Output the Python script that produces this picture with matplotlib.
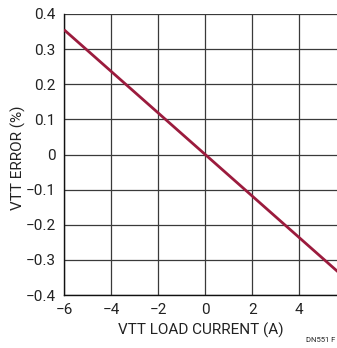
import matplotlib
matplotlib.use("Agg")
import matplotlib.pyplot as plt
from matplotlib import font_manager

# VTT output error versus load current
current_a = [-6.0, 6.0]
error_pct = [0.355, -0.355]

x_ticks = [-6, -4, -2, 0, 2, 4]
y_ticks = [-0.4, -0.3, -0.2, -0.1, 0, 0.1, 0.2, 0.3, 0.4]
y_labels = ["\u22120.4", "\u22120.3", "\u22120.2", "\u22120.1", "0", "0.1", "0.2", "0.3", "0.4"]
x_labels = ["\u22126", "\u22124", "\u22122", "0", "2", "4"]

names = {f.name for f in font_manager.fontManager.ttflist}
family = ["Liberation Sans Narrow"] if "Liberation Sans Narrow" in names else ["Roboto"]
plt.rcParams["font.family"] = family + ["DejaVu Sans"]

fig = plt.figure(figsize=(3.37, 3.48), dpi=100)
ax = fig.add_axes([0.190, 0.152, 0.810, 0.808])

ax.set_xlim(-6, 5.6)
ax.set_ylim(-0.4, 0.4)
ax.set_xticks(x_ticks)
ax.set_xticklabels(x_labels)
ax.set_yticks(y_ticks)
ax.set_yticklabels(y_labels)
ax.tick_params(length=0, labelsize=11, pad=6, colors="#222222")

ax.grid(True, color="#3a3a3a", linewidth=0.9)
ax.set_axisbelow(True)
for side in ("right", "top"):
    ax.spines[side].set_visible(False)
for side in ("left", "bottom"):
    ax.spines[side].set_color("#111111")
    ax.spines[side].set_linewidth(1.0)

ax.plot(current_a, error_pct, color="#9b1b3d", linewidth=2.0, solid_capstyle="butt", zorder=3)

ax.set_xlabel("VTT LOAD CURRENT (A)", fontsize=11, color="#222222", labelpad=4)
ax.set_ylabel("VTT ERROR (%)", fontsize=11, color="#222222")
ax.yaxis.set_label_coords(-0.139, 0.49)

fig.text(0.995, 0.015, "DN551 F", fontsize=5.5, ha="right", va="bottom", color="#222222")

fig.savefig("out.png", dpi=100)
